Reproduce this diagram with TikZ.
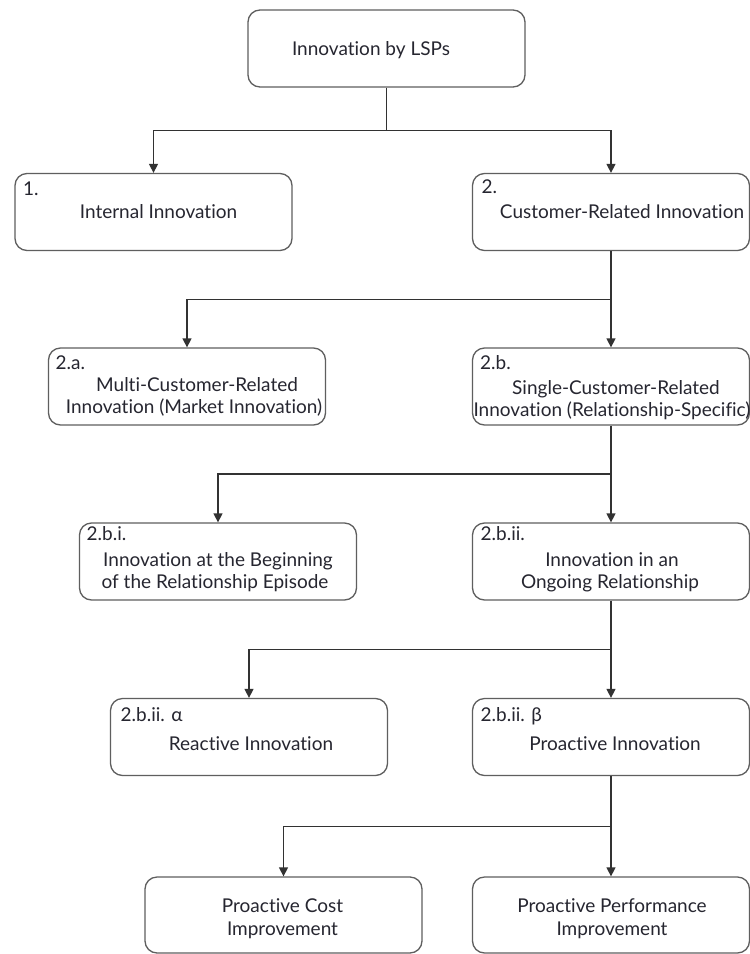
\documentclass[tikz,border=0pt]{standalone}
\usepackage{fontspec}
\setmainfont{Lato}[RawFeature={-liga;-clig;-calt;-dlig}]
\usetikzlibrary{arrows.meta,calc}
\definecolor{ink}{RGB}{38,38,48}
\definecolor{boxline}{RGB}{95,95,95}
\definecolor{wire}{RGB}{50,50,50}
\tikzset{
  box/.style={draw=boxline, line width=1.3pt, rounded corners=12pt,
    minimum width=277pt, minimum height=77pt, inner sep=0pt},
  lowbox/.style={box, minimum height=76pt},
  txt/.style={text=ink, inner sep=0pt, anchor=base,
    font=\fontsize{19pt}{22.5pt}\selectfont},
  num/.style={txt, anchor=base west},
  wireline/.style={draw=wire, line width=1.4pt},
  arrow/.style={wireline, -{Triangle[length=9pt,width=9pt]}},
}
\begin{document}
\begin{tikzpicture}[x=1pt,y=-1pt]
  \useasboundingbox[fill=white] (0,0) rectangle (750,954);

  % boxes
  \node[box] (top)   at (386.5,48.5) {};
  \node[box] (b1)    at (153.5,212)  {};
  \node[box] (b2)    at (611,212)    {};
  \node[box] (b2a)   at (187,386.5)  {};
  \node[box] (b2b)   at (611,386.5)  {};
  \node[box] (b2bi)  at (218,561.5)  {};
  \node[box] (b2bii) at (611,561.5)  {};
  \node[box] (alpha) at (249,737)    {};
  \node[box] (beta)  at (611,737)    {};
  \node[lowbox] (cost) at (283.5,915) {};
  \node[lowbox] (perf) at (611,915)   {};

  % texts
  \node[txt] (ttop) at (371,55) {Innovation by LSPs};

  \node[num] (n1) at (23,195) {1.};
  \node[txt] (t1) at (158.5,218) {Internal Innovation};

  \node[num] (n2) at (481.5,193) {2.};
  \node[txt] (t2) at (622,218) {Customer-Related Innovation};

  \node[num] (n2a) at (55.5,369) {2.a.};
  \node[txt] (t2a1) at (197,391.5) {Multi-Customer-Related};
  \node[txt] (t2a2) at (194,413.5) {Innovation (Market Innovation)};

  \node[num] (n2b) at (480,369) {2.b.};
  \node[txt] (t2b1) at (616,394) {Single-Customer-Related};
  \node[txt] (t2b2) at (612,416) {Innovation (Relationship-Specific)};

  \node[num] (n2bi) at (86.5,540) {2.b.i.};
  \node[txt] (t2bi1) at (218,566) {Innovation at the Beginning};
  \node[txt] (t2bi2) at (215,588) {of the Relationship Episode};

  \node[num] (n2bii) at (480.5,540) {2.b.ii.};
  \node[txt] (t2bii1) at (612,566) {Innovation in an};
  \node[txt] (t2bii2) at (610,588) {Ongoing Relationship};

  \node[num] (nal) at (120.5,721.5) {2.b.ii. α};
  \node[txt] (tal) at (251,750.5) {Reactive Innovation};

  \node[num] (nbe) at (480.5,721.5) {2.b.ii. β};
  \node[txt] (tbe) at (615,750) {Proactive Innovation};

  \node[txt] (tc1) at (282.5,912) {Proactive Cost};
  \node[txt] (tc2) at (282.5,935) {Improvement};

  \node[txt] (tp1) at (612,912) {Proactive Performance};
  \node[txt] (tp2) at (612,935) {Improvement};

  % connectors
  \coordinate (j0) at ($(top.south)!0.5!(top.south |- b1.north)$);
  \draw[wireline] (top.south) -- (j0);
  \draw[arrow] (j0) -| (b1.north);
  \draw[arrow] (j0) -| (b2.north);

  \coordinate (j1) at ($(b2.south)!0.5!(b2b.north)$);
  \draw[arrow] (b2.south) -- (b2b.north);
  \draw[arrow] (j1) -| (b2a.north);

  \coordinate (j2) at ($(b2b.south)!0.5!(b2bii.north)$);
  \draw[arrow] (b2b.south) -- (b2bii.north);
  \draw[arrow] (j2) -| (b2bi.north);

  \coordinate (j3) at ($(b2bii.south)!0.5!(beta.north)$);
  \draw[arrow] (b2bii.south) -- (beta.north);
  \draw[arrow] (j3) -| (alpha.north);

  \coordinate (j4) at ($(beta.south)!0.5!(perf.north)$);
  \draw[arrow] (beta.south) -- (perf.north);
  \draw[arrow] (j4) -| (cost.north);
\end{tikzpicture}
\end{document}
